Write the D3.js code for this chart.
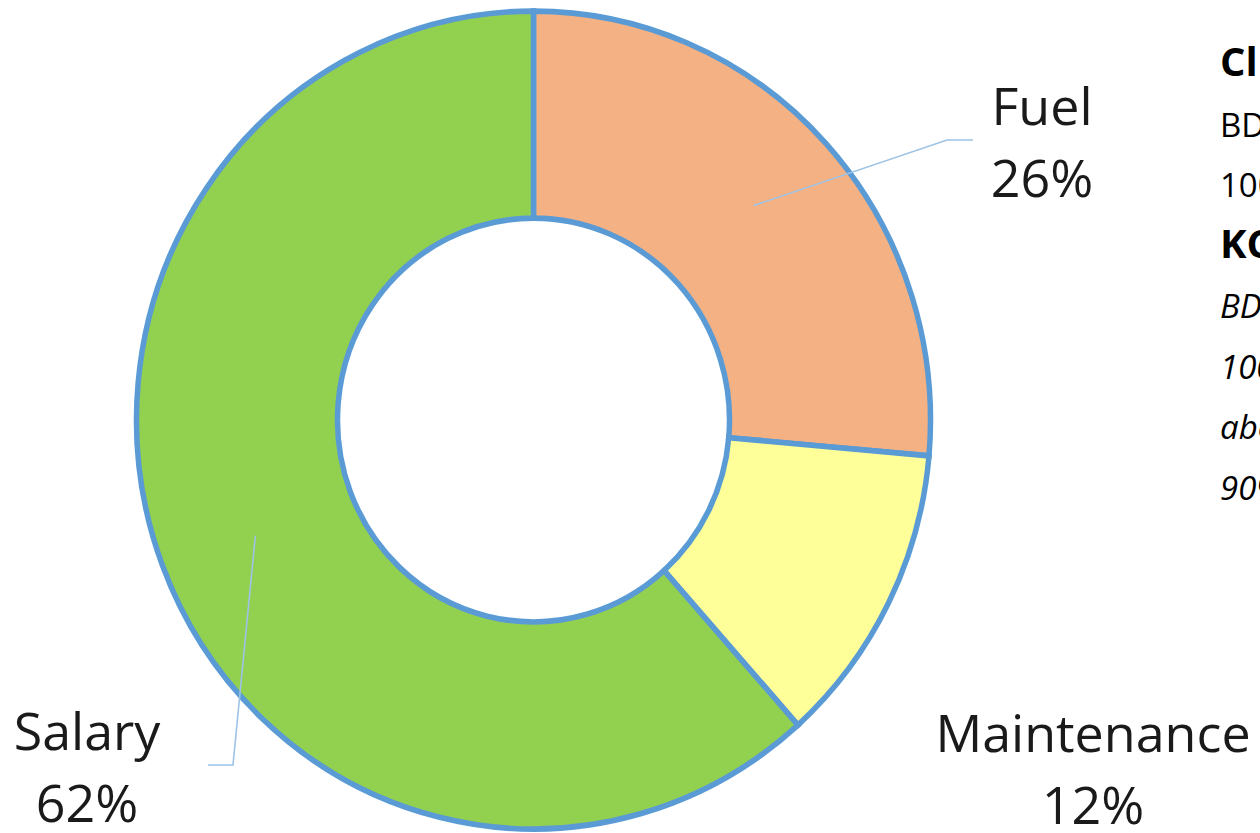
<!DOCTYPE html>
<html>
<head>
<meta charset="utf-8">
<script src="https://cdn.jsdelivr.net/npm/d3@7"></script>
<style>
  html, body { margin: 0; padding: 0; background: #fff; overflow: hidden; }
  svg { display: block; }
</style>
</head>
<body>
<svg id="chart" width="1260" height="833"></svg>
<script>
// chart data
const categories = ["Fuel", "Maintenance", "Salary"];
const shares = [26.4, 12.0, 61.6];
const sliceColors = ["#f4b183", "#ffff99", "#92d050"];

// side note text (cut off by the page edge)
const noteLines = ["Climate", "BDT 2.5 crore", "100 buses", "KCC", "BDT 3.2 crore", "100 buses", "about", "90%"];
const noteStyles = ["bold", "normal", "normal", "bold", "italic", "italic", "italic", "italic"];

const svg = d3.select("#chart");
const cx = 533.5, cy = 420, sy = 1.03;
const outerR = 397, innerR = 196;

const pie = d3.pie().value(d => d).sort(null);
const arcs = pie(shares);

const arc = d3.arc().innerRadius(innerR).outerRadius(outerR);

const g = svg.append("g")
  .attr("transform", `translate(${cx},${cy}) scale(1,${sy})`);

g.selectAll("path.slice")
  .data(arcs)
  .enter().append("path")
  .attr("class", "slice")
  .attr("d", arc)
  .attr("fill", (d, i) => sliceColors[i])
  .attr("stroke", "#5b9bd5")
  .attr("stroke-width", 5.5)
  .attr("stroke-linejoin", "miter");

// label layout: leader start (angle in degrees from top, radius), elbow points, text anchor
const labelLayout = [
  { angle: 46.6, r: 303, path: [[947, 140], [973, 140]], x: 1042, y: 125 },
  { angle: null, r: 0, path: [], x: 1093, y: 752 },
  { angle: 248, r: 300, path: [[233, 765], [208, 765]], x: 87, y: 750 }
];

const line = d3.line();
labelLayout.forEach((l, i) => {
  if (l.angle !== null) {
    const a = l.angle * Math.PI / 180;
    const start = [cx + l.r * Math.sin(a), cy - l.r * Math.cos(a) * sy];
    svg.append("path")
      .attr("d", line([start].concat(l.path)))
      .attr("fill", "none")
      .attr("stroke", "#9dc3e6")
      .attr("stroke-width", 1.6);
  }
  const t = svg.append("text")
    .attr("x", l.x)
    .attr("y", l.y)
    .attr("text-anchor", "middle")
    .style("font-family", "'Open Sans', sans-serif")
    .style("font-size", "52px")
    .style("fill", "#1a1a1a");
  t.append("tspan").attr("x", l.x).text(categories[i]);
  t.append("tspan").attr("x", l.x).attr("dy", 72)
    .text(d3.format(".0f")(shares[i]) + "%");
});

// side note
const noteY = d3.scalePoint().domain(d3.range(noteLines.length)).range([76, 500]);
svg.selectAll("text.note")
  .data(noteLines)
  .enter().append("text")
  .attr("class", "note")
  .attr("x", 1220)
  .attr("y", (d, i) => noteY(i))
  .style("font-family", "'Open Sans', sans-serif")
  .style("font-size", (d, i) => noteStyles[i] === "bold" ? "40px" : "33px")
  .style("font-weight", (d, i) => noteStyles[i] === "bold" ? "bold" : "normal")
  .style("font-style", (d, i) => noteStyles[i] === "italic" ? "italic" : "normal")
  .style("fill", "#000")
  .text(d => d);
</script>
</body>
</html>
